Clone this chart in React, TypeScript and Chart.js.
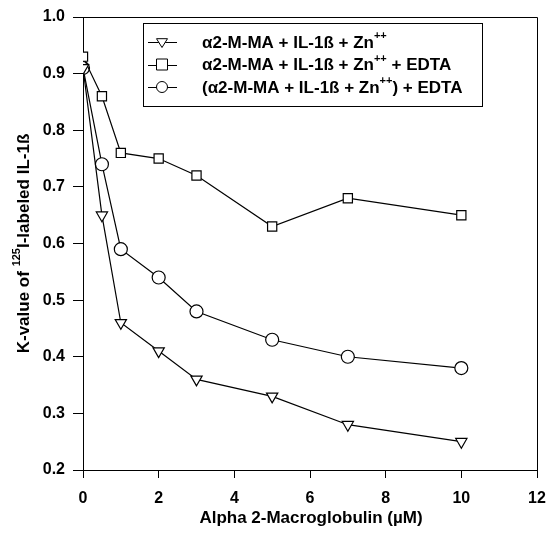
import React, { useEffect, useRef } from "react";
import { Chart, registerables } from "chart.js";

Chart.register(...registerables);

const concentrations = [0, 0.5, 1, 2, 3, 5, 7, 10];
const seriesZn = [0.91, 0.65, 0.46, 0.41, 0.36, 0.33, 0.28, 0.25];
const seriesZnEdta = [0.93, 0.86, 0.76, 0.75, 0.72, 0.63, 0.68, 0.65];
const seriesZnThenEdta = [0.91, 0.74, 0.59, 0.54, 0.48, 0.43, 0.4, 0.38];

type Seg = { t: string; sup?: boolean };
const legendLabels: Seg[][] = [
  [{ t: "α2-M-MA + IL-1ß + Zn" }, { t: "++", sup: true }],
  [{ t: "α2-M-MA + IL-1ß + Zn" }, { t: "++", sup: true }, { t: " + EDTA" }],
  [{ t: "(α2-M-MA + IL-1ß + Zn" }, { t: "++", sup: true }, { t: ") + EDTA" }],
];
const legendStyles = ["triangle", "rect", "circle"];
const yTitle: Seg[] = [{ t: "K-value of " }, { t: "125", sup: true }, { t: "I-labeled IL-1ß" }];
const xTitle = "Alpha 2-Macroglobulin (µM)";

const FONT = "'Liberation Sans', Arial, sans-serif";

function drawSegs(ctx: CanvasRenderingContext2D, segs: Seg[], x: number, y: number, size: number, measureOnly = false) {
  let cx = x;
  for (const s of segs) {
    const fs = s.sup ? Math.round(size * 0.62) : size;
    ctx.font = `bold ${fs}px ${FONT}`;
    if (!measureOnly) ctx.fillText(s.t, cx, s.sup ? y - size * 0.4 : y);
    cx += ctx.measureText(s.t).width;
  }
  return cx - x;
}

function drawMarker(ctx: CanvasRenderingContext2D, style: string, x: number, y: number, r: number) {
  ctx.beginPath();
  if (style === "circle") {
    ctx.arc(x, y, r, 0, Math.PI * 2);
  } else if (style === "rect") {
    ctx.rect(x - r, y - r, 2 * r, 2 * r);
  } else {
    ctx.moveTo(x - r, y - r * 0.6);
    ctx.lineTo(x + r, y - r * 0.6);
    ctx.lineTo(x, y + r * 1.0);
    ctx.closePath();
  }
  ctx.fillStyle = "#fff";
  ctx.fill();
  ctx.strokeStyle = "#000";
  ctx.lineWidth = 1;
  ctx.stroke();
}

const decorPlugin = {
  id: "decor",
  afterDraw(chart: any) {
    const ctx: CanvasRenderingContext2D = chart.ctx;
    const a = chart.chartArea;
    ctx.save();
    // frame
    ctx.strokeStyle = "#000";
    ctx.lineWidth = 1;
    ctx.beginPath();
    ctx.moveTo(a.left, a.top + 0.5);
    ctx.lineTo(a.right + 0.5, a.top + 0.5);
    ctx.lineTo(a.right + 0.5, a.bottom);
    ctx.stroke();

    // legend box
    const bx = 143.5, by = 23.5, bw = 339, bh = 83;
    ctx.fillStyle = "#fff";
    ctx.fillRect(bx, by, bw, bh);
    ctx.strokeRect(bx, by, bw, bh);
    ctx.textBaseline = "middle";
    ctx.textAlign = "left";
    const rows = [42, 64.5, 87];
    legendLabels.forEach((segs, i) => {
      const y = rows[i];
      ctx.beginPath();
      ctx.moveTo(148, Math.round(y) + 0.5);
      ctx.lineTo(177, Math.round(y) + 0.5);
      ctx.strokeStyle = "#000";
      ctx.stroke();
      drawMarker(ctx, legendStyles[i], 162, y, 5.5);
      ctx.fillStyle = "#000";
      drawSegs(ctx, segs, 202, y + 1, 17);
    });

    // x title
    ctx.fillStyle = "#000";
    ctx.font = `bold 17px ${FONT}`;
    ctx.textAlign = "center";
    ctx.fillText(xTitle, (a.left + a.right) / 2 + 1, 518);

    // y title
    ctx.translate(24, (a.top + a.bottom) / 2);
    ctx.rotate(-Math.PI / 2);
    ctx.textAlign = "left";
    const w = drawSegs(ctx, yTitle, 0, 0, 17, true);
    drawSegs(ctx, yTitle, -w / 2, 0, 17);
    ctx.restore();
  },
};

export default function App() {
  const ref = useRef<HTMLCanvasElement | null>(null);
  useEffect(() => {
    document.body.style.margin = "0";
    const mk = (vals: number[], style: string) => ({
      data: concentrations.map((x, i) => ({ x, y: vals[i] })),
      borderColor: "#000",
      borderWidth: 1.2,
      backgroundColor: "#fff",
      pointStyle: style,
      pointRadius: 6.5,
      pointBorderColor: "#000",
      pointBackgroundColor: "#fff",
      pointBorderWidth: 1.2,
      showLine: true,
      tension: 0,
      rotation: style === "triangle" ? 180 : 0,
    });
    const chart = new Chart(ref.current!, {
      type: "scatter",
      data: {
        datasets: [
          mk(seriesZn, "triangle"),
          mk(seriesZnEdta, "rect"),
          mk(seriesZnThenEdta, "circle"),
        ] as any,
      },
      options: {
        animation: false,
        responsive: true,
        maintainAspectRatio: false,
        layout: { padding: { top: 17, right: 11, left: 0, bottom: 0 } },
        plugins: { legend: { display: false }, tooltip: { enabled: false } },
        scales: {
          x: {
            type: "linear",
            min: 0,
            max: 12,
            ticks: { stepSize: 2, color: "#000", font: { family: FONT, size: 16, weight: "bold" }, padding: 11 },
            grid: { drawOnChartArea: false, tickLength: 8, color: "#000" },
            border: { color: "#000" },
            afterFit: (s: any) => {
              s.height = 71;
              s.paddingLeft = 0;
              s.paddingRight = 0;
            },
          },
          y: {
            min: 0.2,
            max: 1.0,
            ticks: {
              stepSize: 0.1,
              color: "#000",
              font: { family: FONT, size: 16, weight: "bold" },
              padding: 8,
              callback: (v: any) => Number(v).toFixed(1),
            },
            grid: { drawOnChartArea: false, tickLength: 10, color: "#000" },
            border: { color: "#000" },
            afterFit: (s: any) => {
              s.width = 83;
              s.paddingTop = 0;
              s.paddingBottom = 0;
            },
          },
        },
      } as any,
      plugins: [decorPlugin],
    });
    return () => chart.destroy();
  }, []);
  return (
    <div style={{ position: "relative", width: 548, height: 541 }}>
      <canvas ref={ref} />
    </div>
  );
}
